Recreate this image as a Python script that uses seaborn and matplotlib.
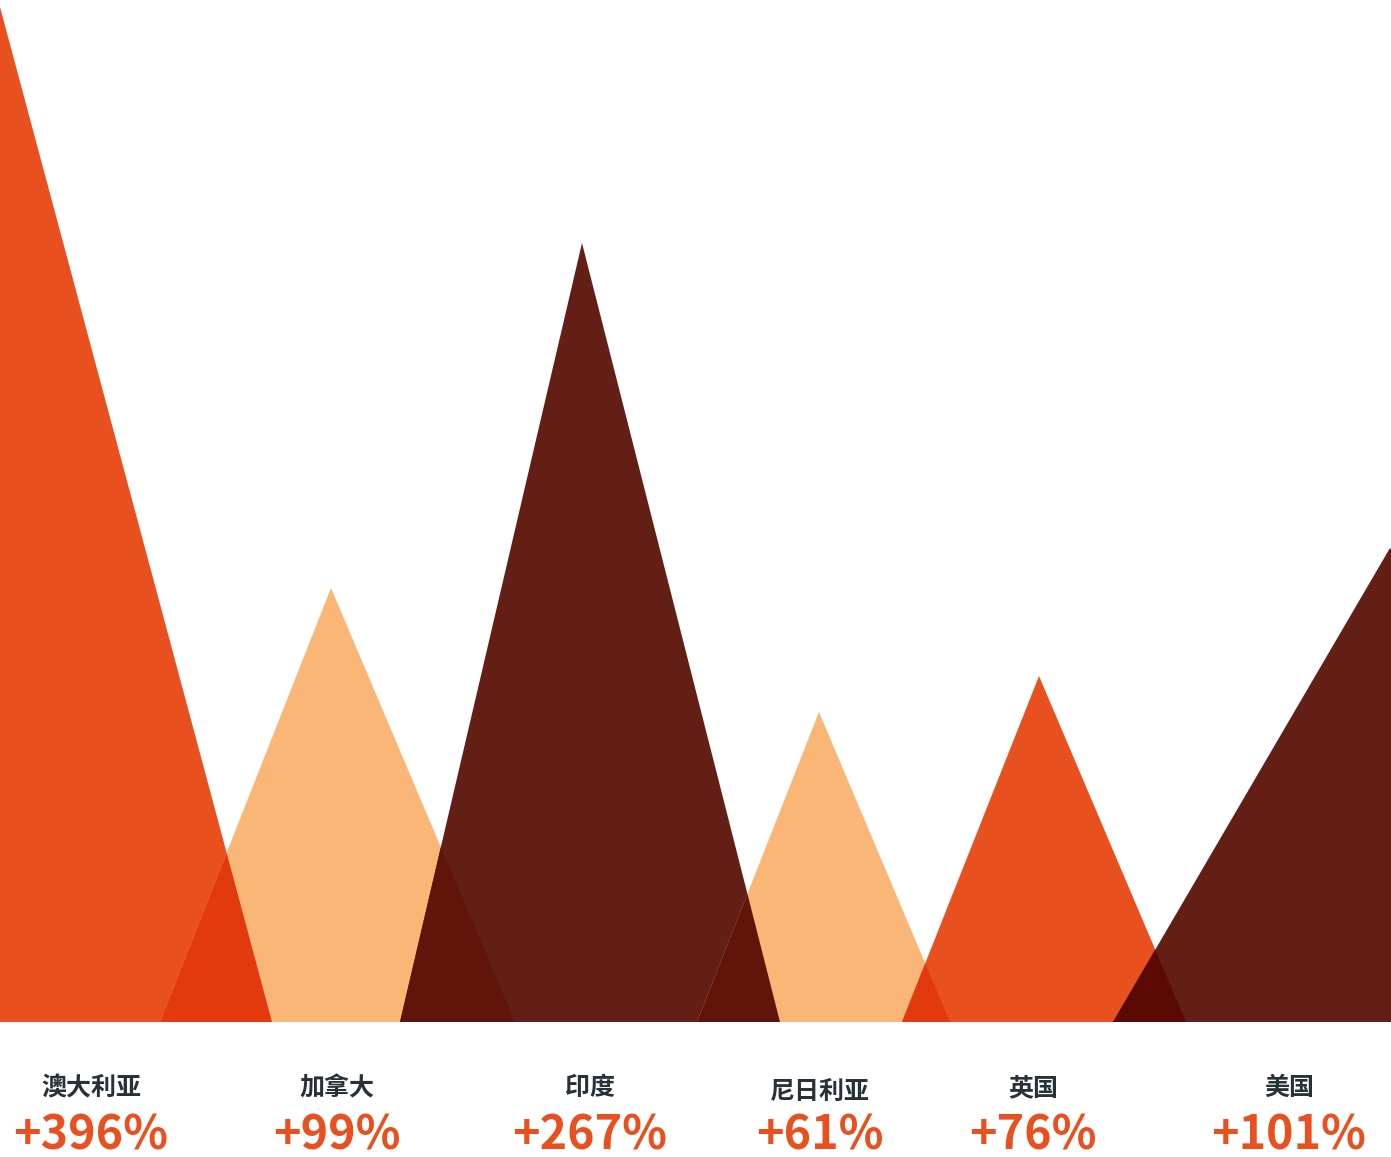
import numpy as np
import matplotlib.pyplot as plt
import matplotlib.colors as mcolors
import seaborn as sns

sns.set_theme(style="white")
plt.rcParams['font.family'] = ['Noto Sans CJK SC', 'DejaVu Sans']

# data (in pixel-like units above the baseline)
countries = ["澳大利亚", "加拿大", "印度", "尼日利亚", "英国", "美国"]
growth = ["+396%", "+99%", "+267%", "+61%", "+76%", "+101%"]
peak_x = [0, 331, 582, 819, 1039, 1390]
peak_h = [1015, 434, 779, 310, 346, 474]
base_left = [-272, 160, 400, 697, 902, 1113]
base_right = [272, 515, 780, 950, 1186, 1667]
label_x = [91, 337, 590, 820, 1033, 1289]

palette = sns.color_palette(["#E8501F", "#F9B677", "#631E16",
                             "#F9B677", "#E8501F", "#631E16"])

fig = plt.figure(figsize=(13.91, 11.57), dpi=100)
ax = fig.add_axes([0, 0, 1, 1])

for i in range(len(countries)):
    ax.fill([base_left[i], peak_x[i], base_right[i]], [0, peak_h[i], 0],
            color=palette[i], lw=0, zorder=1)

# overlaps of neighbouring peaks are drawn with a multiply blend
for i in range(len(countries) - 1):
    r1, c1, h1 = base_right[i], peak_x[i], peak_h[i]
    l2, c2, h2 = base_left[i + 1], peak_x[i + 1], peak_h[i + 1]
    if l2 >= r1:
        continue
    s1 = h1 / (r1 - c1)
    s2 = h2 / (c2 - l2)
    xi = (s1 * r1 + s2 * l2) / (s1 + s2)
    yi = s2 * (xi - l2)
    mix = np.array(mcolors.to_rgb(palette[i])) * np.array(mcolors.to_rgb(palette[i + 1]))
    ax.fill([l2, xi, r1], [0, yi, 0], color=mix, lw=0, zorder=2)

for i in range(len(countries)):
    ny = -70 if countries[i] == "尼日利亚" else -66
    ax.text(label_x[i], ny, countries[i], ha='center', va='center',
            fontsize=18, color="#263238", fontweight='bold')
    ax.text(label_x[i], -113, growth[i], ha='center', va='center',
            fontsize=33.5, color="#E8501F", fontweight='bold')

ax.set_xlim(0, 1391)
ax.set_ylim(-135, 1022)
ax.axis('off')

plt.savefig("out.png", dpi=100)
plt.close()
